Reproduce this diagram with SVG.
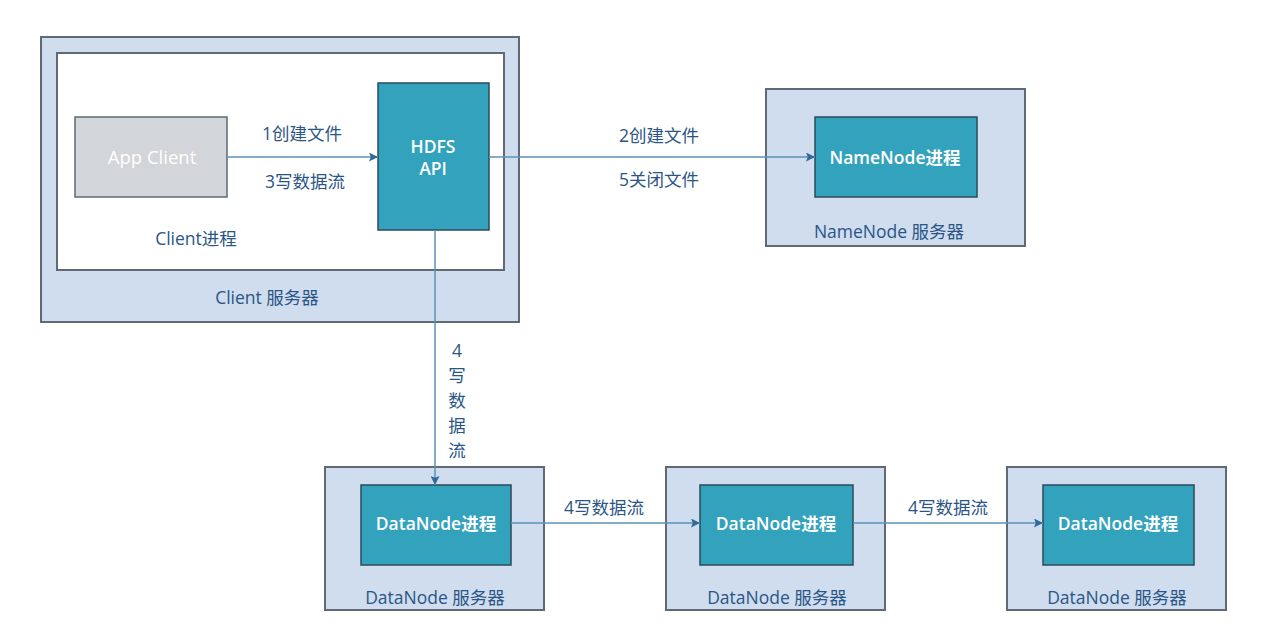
<svg xmlns="http://www.w3.org/2000/svg" width="1276" height="644" viewBox="0 0 1276 644">
<style>
.srv{fill:#cfddef;stroke:#5f6a74;stroke-width:2}
.inner{fill:#ffffff;stroke:#5f6a74;stroke-width:2}
.proc{fill:#33a2bd;stroke:#2c4a5a;stroke-width:1.5}
.app{fill:#d2d5d9;stroke:#5f6a74;stroke-width:1.5}
.lbl{font-family:"Open Sans","Noto Sans","Noto Sans CJK SC",sans-serif;font-size:17.5px;fill:#2a5585;text-anchor:middle}
.wt{font-family:"Open Sans","Noto Sans","Noto Sans CJK SC",sans-serif;font-size:17.5px;fill:#ffffff;text-anchor:middle;font-weight:600}
.edge{stroke:#5b92b9;stroke-width:1.5;fill:none;marker-end:url(#arr)}
</style>
<defs>
<marker id="arr" viewBox="0 0 10 10" refX="10" refY="5" markerWidth="9" markerHeight="9" markerUnits="userSpaceOnUse" orient="auto">
<path d="M0,0 L10,5 L0,10 L2,5 Z" fill="#2f6a9a"/>
</marker>
</defs>
<g id="client-server">
<rect class="srv" x="41" y="37" width="478" height="285"/>
<rect class="inner" x="57" y="53" width="447" height="217"/>
<text class="lbl" x="267" y="304">Client 服务器</text>
<text class="lbl" x="196" y="245">Client进程</text>
</g>
<g id="app-client">
<rect class="app" x="75" y="117" width="152" height="80"/>
<text class="wt" x="152" y="164" style="font-weight:500;font-size:18.5px">App Client</text>
</g>
<g id="hdfs-api">
<rect class="proc" x="378" y="83" width="111" height="147"/>
<text class="wt" x="433" y="153">HDFS</text>
<text class="wt" x="433" y="175">API</text>
</g>
<g id="namenode-server">
<rect class="srv" x="766" y="89" width="259" height="157"/>
<text class="lbl" x="889" y="238">NameNode 服务器</text>
</g>
<g id="namenode">
<rect class="proc" x="815" y="117" width="162" height="80"/>
<text class="wt" x="895" y="164">NameNode进程</text>
</g>
<g id="datanode-server-1">
<rect class="srv" x="325" y="467" width="219" height="143"/>
<text class="lbl" x="435" y="604">DataNode 服务器</text>
</g>
<g id="datanode-1">
<rect class="proc" x="361" y="485" width="150" height="80"/>
<text class="wt" x="436" y="530">DataNode进程</text>
</g>
<g id="datanode-server-2">
<rect class="srv" x="666" y="467" width="219" height="143"/>
<text class="lbl" x="777" y="604">DataNode 服务器</text>
</g>
<g id="datanode-2">
<rect class="proc" x="700" y="485" width="153" height="80"/>
<text class="wt" x="776" y="530">DataNode进程</text>
</g>
<g id="datanode-server-3">
<rect class="srv" x="1007" y="467" width="219" height="143"/>
<text class="lbl" x="1117" y="604">DataNode 服务器</text>
</g>
<g id="datanode-3">
<rect class="proc" x="1043" y="485" width="151" height="80"/>
<text class="wt" x="1118" y="530">DataNode进程</text>
</g>
<g id="connectors">
<path class="edge" d="M227,157 L378,157"/>
<path class="edge" d="M489,157 L815,157"/>
<path class="edge" d="M435,230 L435,485"/>
<path class="edge" d="M511,523 L700,523"/>
<path class="edge" d="M853,523 L1043,523"/>
<text class="lbl" x="302" y="140">1创建文件</text>
<text class="lbl" x="305" y="188">3写数据流</text>
<text class="lbl" x="659" y="142">2创建文件</text>
<text class="lbl" x="659" y="186">5关闭文件</text>
<text class="lbl" x="457" y="357">4</text>
<text class="lbl" x="457" y="382">写</text>
<text class="lbl" x="457" y="407">数</text>
<text class="lbl" x="457" y="432">据</text>
<text class="lbl" x="457" y="457">流</text>
<text class="lbl" x="604" y="514">4写数据流</text>
<text class="lbl" x="948" y="514">4写数据流</text>
</g>
</svg>
